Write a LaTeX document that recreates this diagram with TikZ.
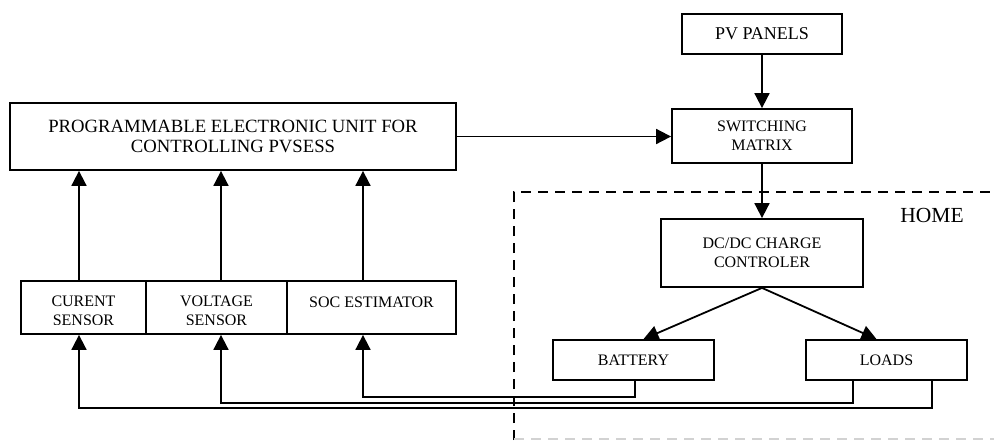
\documentclass[tikz,border=0pt]{standalone}
\usepackage{fontspec}
\setmainfont{Liberation Serif}
\usetikzlibrary{arrows.meta}
\begin{document}
\begin{tikzpicture}[x=1pt,y=-1pt,
  box/.style={draw,line width=1.8pt,rectangle,inner sep=0pt,align=center,font=\fontsize{16}{19}\selectfont},
  lbl/.style={inner sep=0pt,align=center,font=\fontsize{16}{19}\selectfont},
  arr/.style={line width=1.8pt,-{Triangle[length=15pt,width=15pt]}},
  home/.style={line width=1.8pt,dash pattern=on 10pt off 7pt}]
\useasboundingbox (0,0) rectangle (994,440);
% nodes
\node[box,minimum width=160pt,minimum height=40pt,font=\fontsize{18}{21}\selectfont] (pv) at (762,34) {PV PANELS};
\node[box,minimum width=180pt,minimum height=54pt] (sw) at (762,136) {SWITCHING\\MATRIX};
\node[box,minimum width=446pt,minimum height=67pt,font=\fontsize{18.7}{20}\selectfont] (peu) at (233,136.5) {PROGRAMMABLE ELECTRONIC UNIT FOR\\CONTROLLING PVSESS};
\node[box,minimum width=125pt,minimum height=53pt] (cs) at (83.5,307.5) {};
\node[box,minimum width=141pt,minimum height=53pt] (vs) at (216.5,307.5) {};
\node[box,minimum width=169pt,minimum height=53pt] (soc) at (371.5,307.5) {};
\node[lbl] (soct) at (371.5,302) {SOC ESTIMATOR};
\begin{scope}
\clip (cs.north west) rectangle ([yshift=10pt]vs.south east);
\node[lbl] (cst) at (83.5,311) {CURENT\\SENSOR};
\node[lbl] (vst) at (216.5,311) {VOLTAGE\\SENSOR};
\end{scope}
\node[box,minimum width=202pt,minimum height=68pt] (dc) at (762,253) {DC/DC CHARGE\\CONTROLER};
\node[box,minimum width=161pt,minimum height=40pt] (bat) at (633.5,360) {BATTERY};
\node[box,minimum width=161pt,minimum height=40pt] (loads) at (886.5,360) {LOADS};
\node[lbl,font=\fontsize{21.5}{24}\selectfont] (home) at (932,215) {HOME};
% home region
\coordinate (h1) at (514,440);
\coordinate (h2) at (514,192);
\coordinate (h3) at (994,192);
\coordinate (h4) at (514,439);
\coordinate (h5) at (994,439);
\draw[home] (h1) -- (h2) -- (h3);
\draw[line width=1.5pt,dash pattern=on 10pt off 7pt,gray!35] (h4) -- (h5);
% connectors
\draw[arr] (peu.east) -- (peu.east -| sw.west);
\draw[arr] (pv.south) -- (sw.north);
\draw[arr] (sw.south) -- (dc.north);
\draw[arr] (dc.south) -- ([xshift=10pt]bat.north);
\draw[arr] (dc.south) -- ([xshift=-10pt]loads.north);
\draw[arr] ([xshift=-4.5pt]cs.north) -- ([xshift=-4.5pt]cs.north |- peu.south);
\draw[arr] ([xshift=4.5pt]vs.north) -- ([xshift=4.5pt]vs.north |- peu.south);
\draw[arr] ([xshift=-8.5pt]soc.north) -- ([xshift=-8.5pt]soc.north |- peu.south);
\draw[arr] ([xshift=1.5pt]bat.south) -- ++(0,16) -| ([xshift=-8.5pt]soc.south);
\draw[arr] ([xshift=-33.5pt]loads.south) -- ++(0,22) -| ([xshift=4.5pt]vs.south);
\draw[arr] ([xshift=45.5pt]loads.south) -- ++(0,27) -| ([xshift=-4.5pt]cs.south);
\end{tikzpicture}
\end{document}
